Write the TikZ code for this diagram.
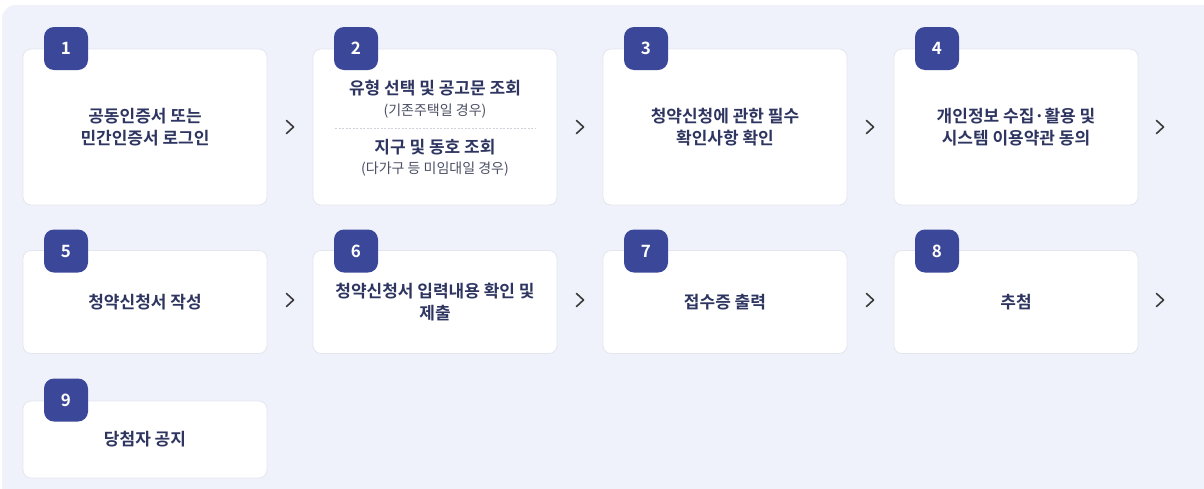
\documentclass[tikz,border=0pt]{standalone}
\usepackage{fontspec}
\setmainfont{Noto Sans CJK KR}[BoldFont={Noto Sans CJK KR Bold}]
\definecolor{panel}{HTML}{F0F2FB}
\definecolor{badge}{HTML}{3B4799}
\definecolor{ink}{HTML}{2E3560}
\definecolor{sub}{HTML}{4A4F63}
\definecolor{chev}{HTML}{3A3A3A}
\definecolor{edge}{HTML}{E4E6EF}
\tikzset{
  card/.style={draw=edge, line width=0.8pt, fill=white, rounded corners=8pt, minimum width=244pt, align=center, text=ink, font=\bfseries\fontsize{17}{22}\selectfont, inner sep=0pt},
  row1/.style={card, minimum height=156pt},
  row2/.style={card, minimum height=103pt},
  row3/.style={card, minimum height=77pt},
  badgebox/.style={fill=badge, rounded corners=10pt, minimum width=44pt, minimum height=43pt, text=white, font=\bfseries\fontsize{17}{17}\selectfont, inner sep=0pt},
  chevron/.style={draw=chev, line width=1.6pt, line cap=round, line join=round},
  subtxt/.style={text=sub, font=\fontsize{14}{16}\selectfont},
  maintxt/.style={text=ink, font=\bfseries\fontsize{17}{20}\selectfont}
}
\begin{document}
\begin{tikzpicture}[x=1pt,y=-1pt]
\useasboundingbox (0,0) rectangle (1204,488);
\fill[white] (0,0) rectangle (1204,488);
\begin{scope}
\clip (0,0) rectangle (1204,488);
\fill[panel, rounded corners=14pt] (2,5) rectangle (1230,520);
\end{scope}
% row 1
\node[row1] (c1) at (145,127) {공동인증서 또는\\민간인증서 로그인};
\node[row1] (c2) at (435,127) {};
\node[row1] (c3) at (725,127) {청약신청에 관한 필수\\확인사항 확인};
\node[row1] (c4) at (1016,127) {개인정보 수집·활용 및\\시스템 이용약관 동의};
% card 2 contents
\node[maintxt] (c2a) at (435,88) {유형 선택 및 공고문 조회};
\node[subtxt] (c2b) at (435,111) {(기존주택일 경우)};
\draw[edge!80!gray, dashed, dash pattern=on 2pt off 1.5pt, line width=0.6pt] (335,128) -- (535,128);
\node[maintxt] (c2c) at (435,147) {지구 및 동호 조회};
\node[subtxt] (c2d) at (435,169) {(다가구 등 미임대일 경우)};
% row 2
\node[row2] (c5) at (145,302) {청약신청서 작성};
\node[row2] (c6) at (435,302) {청약신청서 입력내용 확인 및\\제출};
\node[row2] (c7) at (725,302) {접수증 출력};
\node[row2] (c8) at (1016,302) {추첨};
% row 3
\node[row3] (c9) at (145,439.5) {당첨자 공지};
% badges
\node[badgebox] (b1) at (66,48.5) {1};
\node[badgebox] (b2) at (356,48.5) {2};
\node[badgebox] (b3) at (646,48.5) {3};
\node[badgebox] (b4) at (937,48.5) {4};
\node[badgebox] (b5) at (66,251) {5};
\node[badgebox] (b6) at (356,251) {6};
\node[badgebox] (b7) at (646,251) {7};
\node[badgebox] (b8) at (937,251) {8};
\node[badgebox] (b9) at (66,400) {9};
% chevrons
\foreach \n/\x/\y in {k1/290/127,k2/580/127,k3/870/127,k4/1160/127,k5/290/300,k6/580/300,k7/870/300,k8/1160/300}{
  \coordinate (\n) at (\x,\y);
  \draw[chevron] ([shift={(-3.5,-6.5)}]\n) -- ([shift={(3.5,0)}]\n) -- ([shift={(-3.5,6.5)}]\n);
}
\end{tikzpicture}
\end{document}
